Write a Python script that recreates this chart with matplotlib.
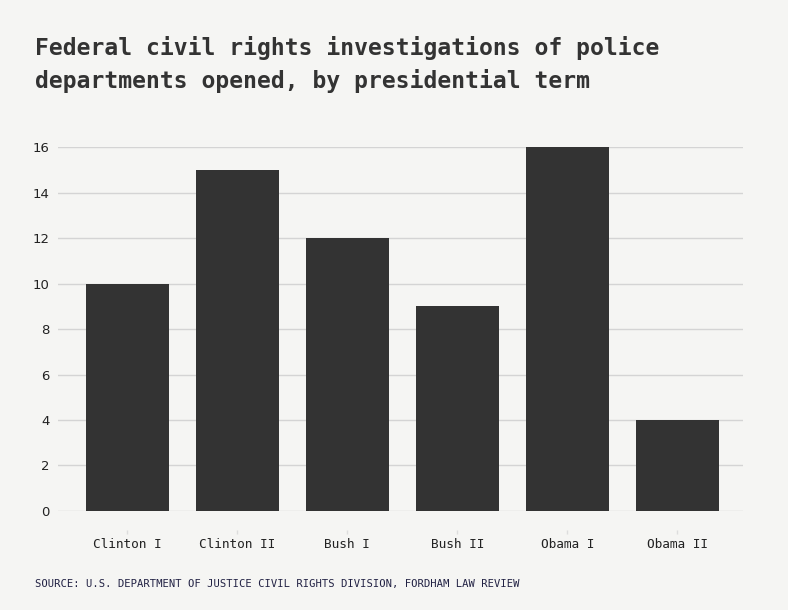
import matplotlib
matplotlib.use("Agg")
import matplotlib.pyplot as plt

# data
terms = ["Clinton I", "Clinton II", "Bush I", "Bush II", "Obama I", "Obama II"]
investigations = [10, 15, 12, 9, 16, 4]
y_ticks = [0, 2, 4, 6, 8, 10, 12, 14, 16]

bg = "#f5f5f3"
dark = "#333333"
mono = ["DejaVu Sans Mono"]

fig = plt.figure(figsize=(7.88, 6.10), dpi=100, facecolor=bg)
ax = fig.add_axes([0.0736, 0.1623, 0.8694, 0.5967], facecolor=bg)

ax.bar(range(len(terms)), investigations, width=0.755, color=dark, zorder=3)

ax.set_xlim(-0.632, 5.6)
ax.set_ylim(0, 16)
ax.set_yticks(y_ticks)
ax.grid(axis="y", color="#d4d4d4", linewidth=1, zorder=0)
ax.set_axisbelow(True)

for s in ["top", "right", "left"]:
    ax.spines[s].set_visible(False)
# push the x ticks below the baseline, hide the spine itself
ax.spines["bottom"].set_position(("outward", 13.5))
ax.spines["bottom"].set_visible(False)

ax.set_xticks(range(len(terms)))
ax.set_xticklabels(terms, family=mono, fontsize=9.2, color="#222222")
ax.tick_params(axis="x", length=3, width=1, color="#dddddd", pad=3)
ax.tick_params(axis="y", length=0, pad=6, labelsize=9.5, labelcolor="#222222")
for lbl in ax.get_yticklabels():
    lbl.set_family(["Liberation Sans Narrow", "DejaVu Sans"])

fig.text(0.044, 0.941, "Federal civil rights investigations of police\ndepartments opened, by presidential term",
         family=mono, fontsize=16.6, weight="semibold", color=dark, va="top", ha="left", linespacing=1.5)

fig.text(0.044, 0.043, "SOURCE: U.S. DEPARTMENT OF JUSTICE CIVIL RIGHTS DIVISION, FORDHAM LAW REVIEW",
         family=mono, fontsize=7.6, color="#222244", va="center", ha="left")

fig.savefig("out.png", dpi=100, facecolor=bg)
